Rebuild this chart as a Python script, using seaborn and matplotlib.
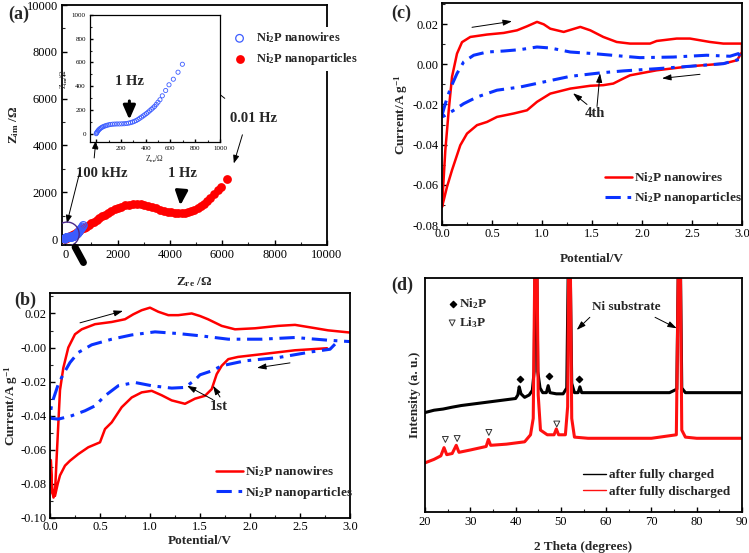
import matplotlib
matplotlib.use("Agg")
import matplotlib.pyplot as plt
from matplotlib.patches import Ellipse
from matplotlib.ticker import MultipleLocator, FormatStrFormatter, NullLocator
import numpy as np
import pandas as pd
import seaborn as sns

sns.set_theme(style="ticks")
plt.rcParams['font.family'] = ['Liberation Serif', 'DejaVu Serif']
plt.rcParams['mathtext.fontset'] = 'custom'
plt.rcParams['mathtext.rm'] = 'Liberation Serif'
plt.rcParams['mathtext.bf'] = 'Liberation Serif:bold'
plt.rcParams['mathtext.it'] = 'Liberation Serif:italic'
plt.rcParams['mathtext.default'] = 'bf'
plt.rcParams['axes.unicode_minus'] = False

RED = '#ff0000'
BLUE = '#0a32ff'
OPEN_BLUE = '#3c5cff'

# ---- (a) impedance data (Zre, Zim in ohm)
zre_np = [0, 80, 170, 260, 350, 440, 530, 620, 710, 800, 900, 1000, 1100, 1200, 1310, 1420, 1530,
          1650, 1770, 1890, 2020, 2150, 2290, 2430, 2580, 2730, 2880, 3030, 3180, 3330, 3480, 3630,
          3770, 3910, 4050, 4190, 4320, 4450, 4580, 4700, 4820, 4940, 5060, 5180, 5300, 5420, 5540,
          5680, 5820, 5960, 6200]
zim_np = [0, 60, 120, 180, 240, 300, 360, 420, 480, 540, 610, 680, 750, 820, 900, 970, 1040,
          1120, 1200, 1270, 1340, 1390, 1440, 1470, 1490, 1495, 1480, 1450, 1410, 1360, 1310, 1260,
          1210, 1170, 1140, 1110, 1100, 1100, 1120, 1150, 1200, 1260, 1330, 1420, 1520, 1640, 1770,
          1930, 2080, 2230, 2560]
zre_nw = [0, 3, 7, 12, 18, 25, 33, 42, 52, 63, 75, 88, 102, 117, 133, 150, 168, 187, 206, 225,
          244, 262, 278, 293, 308, 323, 338, 352, 366, 380, 393, 406, 419, 432, 445, 458, 472, 485,
          499, 515, 534, 561, 588, 623, 661, 696]
zim_nw = [0, 6, 13, 21, 29, 37, 44, 51, 57, 62, 67, 71, 75, 78, 80, 81, 82, 82, 83, 84,
          86, 89, 93, 98, 104, 111, 120, 130, 140, 150, 160, 170, 181, 193, 205, 217, 230, 247,
          265, 286, 319, 364, 412, 459, 518, 585]

# ---- (b) CV 1st cycle (V, A/g)
b_nw_v = [2.77, 2.45, 2.117, 1.88, 1.783, 1.717, 1.667, 1.617, 1.55, 1.45, 1.35, 1.217, 1.117,
          1.017, 0.917, 0.817, 0.717, 0.617, 0.55, 0.5, 0.383, 0.283, 0.2, 0.15, 0.1, 0.077, 0.05,
          0.03, 0.015, 0.008, 0.015, 0.035, 0.05, 0.067, 0.083, 0.1, 0.133, 0.183, 0.25, 0.317,
          0.45, 0.617, 0.75, 0.833, 0.917, 1.0, 1.083, 1.183, 1.283, 1.417, 1.5, 1.58, 1.717, 1.85,
          2.05, 2.28, 2.45, 2.617, 2.78, 3.0]
b_nw_i = [-0.0004, -0.0016, -0.0039, -0.0055, -0.0068, -0.0107, -0.0156, -0.0244, -0.0283,
          -0.030, -0.033, -0.031, -0.028, -0.0254, -0.0263, -0.0293, -0.035, -0.0439, -0.0478,
          -0.0556, -0.0585, -0.0625, -0.0664, -0.0693, -0.075, -0.080, -0.087, -0.086, -0.078,
          -0.066, -0.082, -0.088, -0.085, -0.064, -0.045, -0.025, -0.012, 0.0, 0.0078, 0.0107,
          0.0137, 0.015, 0.0166, 0.0195, 0.0219, 0.0234, 0.021, 0.019, 0.019, 0.020, 0.0185, 0.0166,
          0.0127, 0.0107, 0.0113, 0.0127, 0.0133, 0.0117, 0.0101, 0.0088]
b_np_v = [2.85, 2.8, 2.617, 2.28, 1.95, 1.717, 1.617, 1.5, 1.45, 1.35, 1.217, 1.017, 0.85, 0.683,
          0.55, 0.45, 0.35, 0.217, 0.083, 0.017, 0.0, 0.017, 0.05, 0.083, 0.133, 0.2, 0.283, 0.417,
          0.617, 0.817, 1.05, 1.283, 1.517, 1.783, 2.117, 2.45, 2.78, 3.0]
b_np_i = [0.002, -0.001, -0.0025, -0.0059, -0.0078, -0.0107, -0.0137, -0.016, -0.019, -0.0234,
          -0.0238, -0.0224, -0.0205, -0.0224, -0.0283, -0.0342, -0.0371, -0.040, -0.042, -0.0416,
          -0.0406, -0.033, -0.0273, -0.0215, -0.0156, -0.0088, -0.0029, 0.0016, 0.0049, 0.0074,
          0.0092, 0.0082, 0.0068, 0.0049, 0.0049, 0.0059, 0.0043, 0.0035]

# ---- (c) CV 4th cycle
c_nw_v = [0.0, 0.033, 0.067, 0.1, 0.15, 0.2, 0.283, 0.45, 0.617, 0.75, 0.85, 0.95, 1.017, 1.083,
          1.217, 1.383, 1.483, 1.613, 1.747, 1.88, 2.08, 2.147, 2.347, 2.48, 2.68, 2.813, 3.0, 3.0,
          2.95, 2.813, 2.48, 2.147, 1.88, 1.813, 1.713, 1.613, 1.483, 1.283, 1.083, 0.95, 0.85,
          0.717, 0.55, 0.45, 0.35, 0.25, 0.183, 0.1, 0.05, 0.017, 0.0]
c_nw_i = [-0.071, -0.043, -0.023, -0.0063, 0.0053, 0.011, 0.0136, 0.0148, 0.0156, 0.0169, 0.0189,
          0.0211, 0.0199, 0.0177, 0.0161, 0.0186, 0.0169, 0.0136, 0.0111, 0.0103, 0.0103, 0.0116,
          0.0128, 0.0128, 0.0111, 0.0103, 0.0103, 0.0061, 0.002, 0.0003, -0.001, -0.003, -0.0055,
          -0.0071, -0.0096, -0.0104, -0.0107, -0.0121, -0.0146, -0.0187, -0.0229, -0.0245, -0.0262,
          -0.0287, -0.0303, -0.0345, -0.0403, -0.0527, -0.061, -0.0677, -0.071]
c_np_v = [0.0, 0.033, 0.083, 0.15, 0.217, 0.317, 0.45, 0.617, 0.783, 0.95, 1.083, 1.283, 1.517,
          1.813, 1.98, 2.313, 2.647, 2.88, 2.963, 3.0, 2.813, 2.48, 2.147, 1.813, 1.58, 1.283, 1.017,
          0.783, 0.55, 0.35, 0.217, 0.117, 0.033, 0.0]
c_np_i = [-0.0254, -0.0196, -0.0121, -0.0046, 0.0012, 0.0045, 0.0061, 0.0066, 0.0073, 0.0086,
          0.0081, 0.0061, 0.0053, 0.004, 0.0033, 0.0036, 0.0045, 0.004, 0.0053, 0.0028, 0.0003,
          -0.001, -0.0022, -0.0033, -0.0043, -0.006, -0.0088, -0.0113, -0.0129, -0.0163, -0.0196,
          -0.0229, -0.0254, -0.0262]

# ---- (d) XRD (2theta, intensity a.u.)
xrd_ch_t = [20, 22, 24, 26, 28, 30, 32, 34, 36, 38, 40, 40.5, 40.8, 41.2, 42, 43, 43.7, 44.1,
            44.35, 44.65, 44.9, 45.4, 46, 46.8, 47.2, 47.6, 49, 50.5, 51.3, 51.7, 52.0, 52.4, 53,
            53.8, 54.2, 54.6, 56, 60, 65, 70, 74, 75.6, 76.0, 76.35, 76.7, 77.5, 80, 85, 90]
xrd_ch_i = [42.5, 43.5, 44, 44.8, 45.5, 46, 46.5, 47, 47.5, 48, 48.5, 50, 53.5, 50.5, 49, 50, 52,
            60, 115, 115, 60, 53, 51, 51, 54, 51, 50.5, 50.5, 53, 115, 115, 55, 51,
            51, 53.5, 51, 51, 51, 51, 51, 51, 52.5, 115, 115, 53, 51, 51, 51, 51]
xrd_dis_t = [20, 22, 23.5, 24.2, 24.8, 26, 26.9, 27.5, 30, 33.5, 34, 34.5, 38, 42, 43.3, 43.9,
             44.3, 44.7, 45.0, 45.5, 47, 48.5, 49, 49.5, 51, 51.5, 51.75, 52.05, 52.4, 53, 56, 60,
             70, 75.5, 76.0, 76.35, 76.7, 77.5, 80, 90]
xrd_dis_i = [21, 22.5, 24, 27.5, 24.5, 25, 28.5, 25.5, 26.5, 28, 31, 28.5, 29, 30, 33, 40,
             115, 115, 50, 35, 33, 33, 35.5, 33, 33, 45, 115, 115, 40, 32, 31.5, 31.5,
             31.5, 33, 115, 115, 35, 32, 31.5, 31.5]
ni2p_t = [40.9, 47.3, 54.1]
ni2p_i = [56.8, 58.2, 56.8]
li3p_t = [24.5, 27.1, 34.1, 49.1]
li3p_i = [31.0, 31.4, 34.0, 37.6]

fig = plt.figure(figsize=(7.49, 5.53), dpi=100)


def style(ax, lw=1.3, size=9, length=3.5, pad=3):
    for s in ax.spines.values():
        s.set_linewidth(lw)
        s.set_color('black')
    ax.tick_params(direction='in', top=False, right=False, labelsize=size,
                   length=length, width=1.0, pad=pad, colors='black')
    ax.tick_params(which='minor', direction='in', length=length * 0.6, width=0.8)
    ax.set_facecolor('white')


lab = dict(fontsize=9.5, fontweight='bold')

# ================= (a)
axa = fig.add_axes([62 / 749, 308 / 553, 265 / 749, 240 / 553])
sns.scatterplot(x=zre_nw, y=zim_nw, ax=axa, s=30, color=OPEN_BLUE, linewidth=0.9,
                label='Ni$_2$P nanowires', zorder=4)
axa.collections[-1].set_facecolor('none')
axa.collections[-1].set_edgecolor(OPEN_BLUE)
sns.scatterplot(x=zre_np, y=zim_np, ax=axa, s=40, color=RED, linewidth=0,
                label='Ni$_2$P nanoparticles', zorder=3)
axa.set_xlim(-120, 10000)
axa.set_ylim(-250, 10000)
axa.xaxis.set_major_locator(MultipleLocator(2000))
axa.xaxis.set_minor_locator(MultipleLocator(1000))
axa.yaxis.set_major_locator(MultipleLocator(2000))
axa.yaxis.set_minor_locator(MultipleLocator(1000))
style(axa)
axa.set_xlabel('Z$_{re}$ /Ω', labelpad=10, **lab)
axa.set_ylabel('Z$_{im}$ /Ω', labelpad=4, **lab)
leg = axa.legend(loc='upper left', bbox_to_anchor=(0.585, 0.935), frameon=True, framealpha=1,
                 edgecolor='none', facecolor='white', fontsize=9, handletextpad=0.3,
                 borderpad=0.3, labelspacing=0.45, markerscale=1.0)
for t in leg.get_texts():
    t.set_fontweight('bold')
leg.set_zorder(10)
axa.add_patch(Ellipse((76, 214), 920, 1030, fill=False, edgecolor='#4b2a8a', lw=1.0, zorder=5))
axa.plot([380, 700], [-340, -1000], color='black', lw=5, solid_capstyle='round',
         clip_on=False, zorder=6)
axa.annotate('1 Hz', xy=(4390, 1320), xytext=(4500, 2820), ha='center', va='center',
             fontsize=10.5, fontweight='bold',
             arrowprops=dict(arrowstyle='-|>,head_width=0.35,head_length=0.8', lw=2.2,
                             color='black', shrinkA=6))
axa.text(7180, 5170, '0.01 Hz', ha='center', va='center', fontsize=10.5, fontweight='bold')
axa.annotate('', xy=(4960, 7010), xytext=(6180, 5940),
             arrowprops=dict(arrowstyle='-|>,head_width=0.15,head_length=0.4', lw=0.7, color='black'))
axa.annotate('', xy=(6410, 3120), xytext=(6800, 4570),
             arrowprops=dict(arrowstyle='-|>,head_width=0.15,head_length=0.4', lw=0.7, color='black'))
axa.text(1410, 2820, '100 kHz', ha='center', va='center', fontsize=10.5, fontweight='bold')
axa.annotate('', xy=(1180, 4330), xytext=(1100, 3350),
             arrowprops=dict(arrowstyle='-|>,head_width=0.15,head_length=0.4', lw=0.7, color='black'))
axa.annotate('', xy=(40, 560), xytext=(600, 3050),
             arrowprops=dict(arrowstyle='-|>,head_width=0.15,head_length=0.4', lw=0.7, color='black'))
fig.text(8 / 749, 1 - 14 / 553, '(a)', fontsize=13, fontweight='bold', va='center')

# inset
axi = fig.add_axes([90 / 749, 411 / 553, 130 / 749, 127 / 553])
sns.scatterplot(x=zre_nw, y=zim_nw, ax=axi, s=9, color=OPEN_BLUE, linewidth=0.6, legend=False)
axi.collections[-1].set_facecolor('none')
axi.collections[-1].set_edgecolor(OPEN_BLUE)
axi.set_xlim(-50, 1000)
axi.set_ylim(-70, 1000)
axi.xaxis.set_major_locator(MultipleLocator(200))
axi.xaxis.set_minor_locator(MultipleLocator(100))
axi.yaxis.set_major_locator(MultipleLocator(200))
axi.yaxis.set_minor_locator(MultipleLocator(100))
style(axi, lw=0.9, size=5, length=2)
axi.set_xlabel('Z$_{re}$/Ω', fontsize=5.5, labelpad=2)
axi.set_ylabel('Z$_{im}$/Ω', fontsize=5.5, labelpad=1)
axi.annotate('1 Hz', xy=(268, 95), xytext=(268, 440), ha='center', va='center',
             fontsize=10.5, fontweight='bold',
             arrowprops=dict(arrowstyle='-|>,head_width=0.35,head_length=0.8', lw=2.2,
                             color='black', shrinkA=7))


def cv_axes(ax, ylim, xpad, ypad):
    ax.set_xlim(0, 3.0)
    ax.set_ylim(*ylim)
    ax.xaxis.set_major_locator(MultipleLocator(0.5))
    ax.xaxis.set_minor_locator(MultipleLocator(0.25))
    ax.yaxis.set_major_locator(MultipleLocator(0.02))
    ax.yaxis.set_minor_locator(MultipleLocator(0.01))
    ax.xaxis.set_major_formatter(FormatStrFormatter('%.1f'))
    ax.yaxis.set_major_formatter(FormatStrFormatter('%.2f'))
    style(ax, pad=2.5)
    ax.set_xlabel('Potential/V', labelpad=xpad, **lab)
    ax.set_ylabel('Current/A g$^{-1}$', labelpad=ypad, **lab)


def cv_lines(ax, v1, i1, v2, i2, legpos):
    sns.lineplot(x=v1, y=i1, sort=False, estimator=None, color=RED, lw=1.8, ax=ax,
                 label='Ni$_2$P nanowires')
    sns.lineplot(x=v2, y=i2, sort=False, estimator=None, color=BLUE, lw=2.2, ax=ax,
                 label='Ni$_2$P nanoparticles')
    ax.get_lines()[-1].set_dashes((5, 2.2, 1.2, 2.2))
    lg = ax.legend(loc='upper left', bbox_to_anchor=legpos, frameon=False, fontsize=9.5,
                   handlelength=2.0, handletextpad=0.2, labelspacing=0.4)
    for t in lg.get_texts():
        t.set_fontweight('bold')
    lg.get_lines()[-1].set_dashes((5, 2.2, 1.2, 2.2))


def thin_arrow(ax, xy, xyt):
    ax.annotate('', xy=xy, xytext=xyt,
                arrowprops=dict(arrowstyle='-|>,head_width=0.15,head_length=0.45', lw=0.7,
                                color='black', shrinkA=0, shrinkB=0))


# ================= (b)
axb = fig.add_axes([50 / 749, 35 / 553, 300 / 749, 225 / 553])
cv_lines(axb, b_nw_v, b_nw_i, b_np_v, b_np_i, (0.515, 0.29))
cv_axes(axb, (-0.10, 0.032), 1, 0.5)
thin_arrow(axb, (0.73, 0.0215), (0.30, 0.0145))
thin_arrow(axb, (2.07, -0.0119), (2.40, -0.009))
axb.text(1.69, -0.0347, '1st', ha='center', va='center', fontsize=10.5, fontweight='bold')
thin_arrow(axb, (1.37, -0.0224), (1.63, -0.0306))
thin_arrow(axb, (1.63, -0.0224), (1.70, -0.029))
fig.text(14 / 749, 1 - 300 / 553, '(b)', fontsize=13, fontweight='bold', va='center')

# ================= (c)
axc = fig.add_axes([442 / 749, 328 / 553, 300 / 749, 222 / 553])
cv_lines(axc, c_nw_v, c_nw_i, c_np_v, c_np_i, (0.505, 0.30))
cv_axes(axc, (-0.08, 0.0305), 9, 2)
thin_arrow(axc, (0.70, 0.0214), (0.30, 0.0184))
thin_arrow(axc, (2.20, -0.007), (2.58, -0.005))
axc.text(1.53, -0.0244, '4th', ha='center', va='center', fontsize=10.5, fontweight='bold')
thin_arrow(axc, (1.31, -0.0144), (1.45, -0.020))
thin_arrow(axc, (1.58, -0.0045), (1.55, -0.021))
fig.text(391 / 749, 1 - 13 / 553, '(c)', fontsize=13, fontweight='bold', va='center')

# ================= (d)
axd = fig.add_axes([425 / 749, 41 / 553, 317 / 749, 234 / 553])
sns.lineplot(x=xrd_ch_t, y=xrd_ch_i, sort=False, estimator=None, color='black', lw=2.2,
             ax=axd, label='after fully charged')
sns.lineplot(x=xrd_dis_t, y=xrd_dis_i, sort=False, estimator=None, color='#ff1010', lw=2.2,
             ax=axd, label='after fully discharged')
axd.scatter(ni2p_t, ni2p_i, marker='D', s=10, color='black', zorder=5)
axd.scatter(li3p_t, li3p_i, marker='v', s=18, facecolor='none', edgecolor='#333333',
            linewidth=0.7, zorder=5)
axd.set_xlim(20, 90)
axd.set_ylim(0, 100)
axd.xaxis.set_major_locator(MultipleLocator(10))
axd.xaxis.set_minor_locator(MultipleLocator(5))
axd.yaxis.set_major_locator(NullLocator())
style(axd)
axd.set_xlabel('2 Theta (degrees)', labelpad=9, **lab)
axd.set_ylabel('Intensity (a. u.)', labelpad=3, **lab)
lg = axd.legend(loc='upper left', bbox_to_anchor=(0.46, 0.235), frameon=False, fontsize=9.5,
                handlelength=1.8, handletextpad=0.2, labelspacing=0.35)
for t in lg.get_texts():
    t.set_fontweight('bold')
for l in lg.get_lines():
    l.set_linewidth(1.0)
axd.scatter([26.2], [88.9], marker='D', s=10, color='black')
axd.text(27.6, 88.9, 'Ni$_2$P', va='center', fontsize=9.5, fontweight='bold')
axd.scatter([26.0], [80.8], marker='v', s=18, facecolor='none', edgecolor='#333333', linewidth=0.7)
axd.text(27.6, 80.8, 'Li$_3$P', va='center', fontsize=9.5, fontweight='bold')
axd.text(64.5, 87.7, 'Ni substrate', ha='center', va='center', fontsize=9.5, fontweight='bold')
thin_arrow(axd, (53.5, 77.8), (56.4, 83.2))
thin_arrow(axd, (75.6, 78.5), (70.8, 83.2))
fig.text(391 / 749, 1 - 285 / 553, '(d)', fontsize=13, fontweight='bold', va='center')

fig.savefig('out.png', dpi=100)
